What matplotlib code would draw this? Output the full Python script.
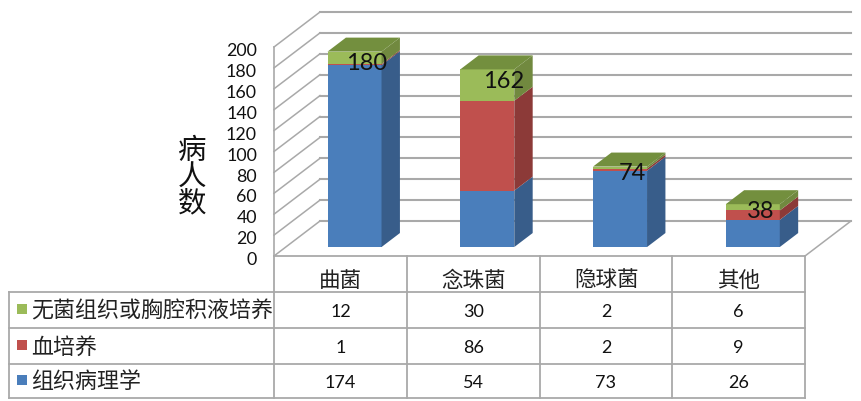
import matplotlib
matplotlib.use('Agg')
import matplotlib.pyplot as plt
import numpy as np

plt.rcParams['font.family'] = ['Lato', 'Noto Sans CJK SC', 'DejaVu Sans']

categories = ['曲菌', '念珠菌', '隐球菌', '其他']
series_names = ['无菌组织或胸腔积液培养', '血培养', '组织病理学']
sterile = [12, 30, 2, 6]
blood = [1, 86, 2, 9]
histology = [174, 54, 73, 26]
bar_labels = [180, 162, 74, 38]
y_ticks = np.arange(0, 201, 20)

# colours: front, side, top
blue = ('#4A7EBB', '#385D8A', '#385D8A')
red = ('#C0504D', '#8C3A38', '#8C3A38')
green = ('#9BBB59', '#71893F', '#738F3E')
grid = '#A9A9A9'

# layout in pixels of the 861x402 picture
X0, Y0 = 274, 257
CELL = 132.75
PER_UNIT = 1.045
BACK_X, BACK_Y = 46, 35

fig = plt.figure(figsize=(8.61, 4.02), dpi=100)
ax = fig.add_axes([0, 0, 1, 1])
ax.set_xlim(-X0 / CELL, (861 - X0) / CELL)
ax.set_ylim((Y0 - 402) / PER_UNIT, Y0 / PER_UNIT)
ax.axis('off')

DX = BACK_X / CELL
DY = BACK_Y / PER_UNIT
n = len(categories)

# walls and floor
for v in y_ticks:
    ax.plot([0, DX], [v, v + DY], color=grid, lw=1.1, zorder=1)
    ax.plot([DX, n + DX], [v + DY, v + DY], color=grid, lw=1.5, zorder=1)
    ax.text(-17 / CELL, v - 3, str(v), ha='right', va='center', fontsize=12.8, color='#111111')
ax.plot([0, 0], [0, 200], color=grid, lw=1.2, zorder=1)
ax.plot([n, n + DX], [0, DY], color=grid, lw=1.1, zorder=1)

# bars
d_front, d_back = 0.286, 0.686
width = 54 / CELL
label_shift = [12, 16, 12, 8]
for i in range(n):
    x = i + 0.5 + d_front * DX - width / 2 + 1 / CELL
    base = d_front * DY - 1
    bottom = 0
    shift_x = (d_back - d_front) * DX
    shift_y = (d_back - d_front) * DY
    for vals, cols in [(histology, blue), (blood, red), (sterile, green)]:
        v = vals[i]
        ax.bar(x, v, width=width, bottom=base + bottom, align='edge', color=cols[0], zorder=3)
        r = x + width
        ax.fill([r, r + shift_x, r + shift_x, r],
                [base + bottom, base + bottom + shift_y, base + bottom + v + shift_y, base + bottom + v],
                color=cols[1], lw=0, zorder=3)
        bottom += v
    top = base + bottom
    ax.fill([x, x + shift_x, x + width + shift_x, x + width],
            [top, top + shift_y, top + shift_y, top], color=green[2], lw=0, zorder=4)
    ax.text(x + width / 2 + label_shift[i] / CELL, bar_labels[i] + base - 3, str(bar_labels[i]),
            ha='center', va='center', fontsize=17, color='#111111', zorder=5)

# table, drawn in picture pixels
tab = fig.add_axes([0, 0, 1, 1])
tab.set_xlim(0, 861)
tab.set_ylim(402, 0)
tab.axis('off')
tab.patch.set_alpha(0)

col_x = [274, 407, 540, 672, 805]
row_y = [293, 329, 365, 399]
tab.plot([274, 805], [257, 257], color=grid, lw=1.3)
for cx in col_x:
    tab.plot([cx, cx], [257, 399], color=grid, lw=1.3)
tab.plot([9, 9], [293, 399], color=grid, lw=1.3)
for ry in row_y:
    tab.plot([9, 805], [ry, ry], color=grid, lw=1.3)

for j, name in enumerate(categories):
    tab.text((col_x[j] + col_x[j + 1]) / 2, 281, name, ha='center', va='center', fontsize=15.5, color='#222222')

rows = [(series_names[0], sterile, green), (series_names[1], blood, red), (series_names[2], histology, blue)]
for k, (name, vals, cols) in enumerate(rows):
    cy = (row_y[k] + row_y[k + 1]) / 2
    tab.scatter([21.5], [cy - 1], marker='s', s=52, color=cols[0], linewidths=0)
    tab.text(31, cy, name, ha='left', va='center', fontsize=15.8, color='#222222')
    for j, v in enumerate(vals):
        tab.text((col_x[j] + col_x[j + 1]) / 2, cy + 1, str(v), ha='center', va='center', fontsize=13, color='#111111')

tab.text(192, 177, '病\n人\n数', ha='center', va='center', fontsize=20.5, linespacing=1.0, color='#111111')

fig.savefig('out.png', dpi=100)
